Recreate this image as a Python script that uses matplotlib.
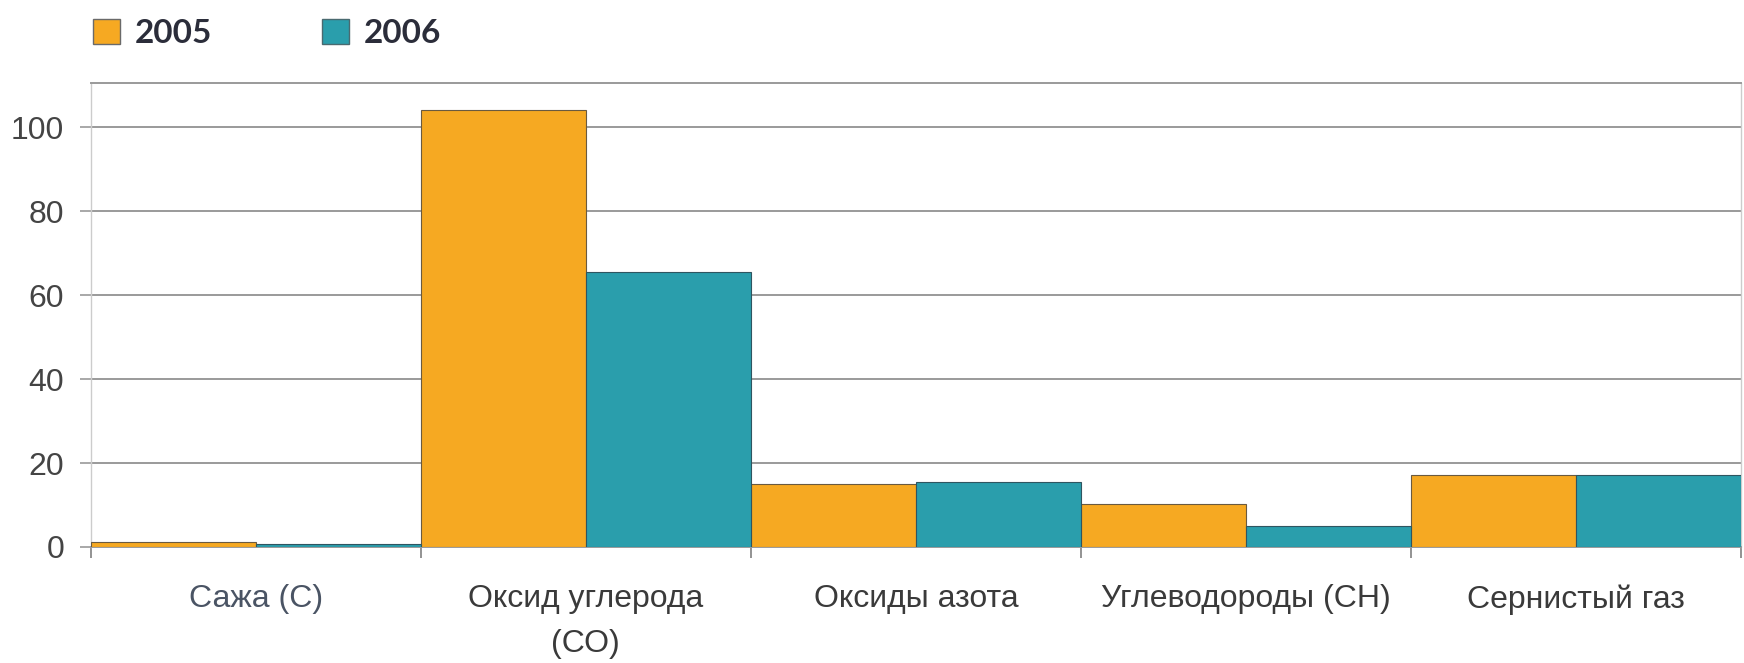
import numpy as np
import matplotlib
matplotlib.use("Agg")
import matplotlib.pyplot as plt
from matplotlib.patches import Patch

plt.rcParams['font.family'] = ['Liberation Sans', 'DejaVu Sans']

categories = ["Сажа (С)", "Оксид углерода\n(СО)", "Оксиды азота",
              "Углеводороды (СН)", "Сернистый газ"]
years = ["2005", "2006"]
values_2005 = [1.2, 104.0, 14.9, 10.3, 17.2]
values_2006 = [0.6, 65.4, 15.5, 5.0, 17.2]

orange = "#F6A922"
teal = "#2A9EAC"

fig = plt.figure(figsize=(17.44, 6.63), dpi=100)
ax = fig.add_axes([90.7 / 1744, 116 / 663, (1741 - 90.7) / 1744, (547 - 83) / 663])

x = np.arange(len(categories))
w = 0.5
ax.bar(x - w / 2, values_2005, width=w, color=orange, edgecolor="#6a5a40", linewidth=0.8, zorder=3)
ax.bar(x + w / 2, values_2006, width=w, color=teal, edgecolor="#2f5560", linewidth=0.8, zorder=3)

ax.set_xlim(-0.5, len(categories) - 0.5)
ax.set_ylim(0, 110.5)
ax.set_yticks([0, 20, 40, 60, 80, 100])
ax.yaxis.grid(True, color="#9a9a9a", linewidth=1.4, zorder=0)

ax.set_xticks(x)
ax.set_xticklabels(categories, fontsize=23, color="#3a3a3a", linespacing=1.65)
ax.get_xticklabels()[0].set_color("#4a5464")
ax.tick_params(axis="x", which="major", length=0, pad=27)
ax.set_xticks(np.arange(-0.5, len(categories)), minor=True)
ax.tick_params(axis="x", which="minor", length=8, color="#808080", width=1.2)

ax.tick_params(axis="y", labelsize=23, labelcolor="#444444", length=8,
               color="#9a9a9a", width=1.2, pad=11)

for side in ["top", "bottom"]:
    ax.spines[side].set_color("#9a9a9a")
    ax.spines[side].set_linewidth(1.4)
for side in ["left", "right"]:
    ax.spines[side].set_color("#cccccc")
    ax.spines[side].set_linewidth(1.0)

handles = [Patch(facecolor=orange, edgecolor="#6a6a6a", linewidth=1.0),
           Patch(facecolor=teal, edgecolor="#4a6a70", linewidth=1.0)]
leg = fig.legend(handles, years, loc="upper left", bbox_to_anchor=(93 / 1744, 1 - 19 / 663),
                 ncol=2, frameon=False, borderpad=0, borderaxespad=0,
                 handlelength=0.8, handleheight=0.75,
                 handletextpad=0.45, columnspacing=3.3,
                 prop={"family": "Lato", "weight": "bold", "size": 24})
for t in leg.get_texts():
    t.set_color("#2b2d3a")

fig.savefig("out.png", dpi=100)
